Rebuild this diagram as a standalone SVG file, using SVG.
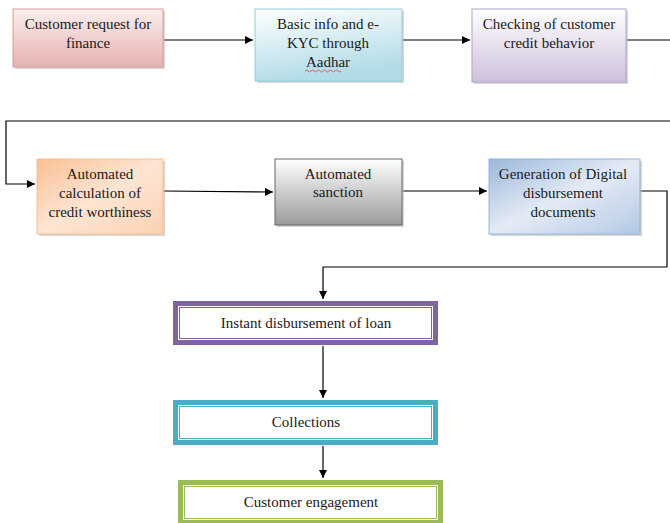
<svg xmlns="http://www.w3.org/2000/svg" width="670" height="523" viewBox="0 0 670 523">
<style>
text{font-family:"Liberation Serif","DejaVu Serif",serif;font-size:15px;fill:#1a1a1a;text-anchor:middle}
.c{fill:none;stroke:#000;stroke-width:1.2}
.sh{fill:#bbb;opacity:.6}
</style>
<defs>
<marker id="ah" viewBox="0 0 10 10" refX="10" refY="5" markerWidth="8" markerHeight="8" markerUnits="userSpaceOnUse" orient="auto"><path d="M0,0L10,5L0,10z" fill="#000"/></marker>
<linearGradient id="gPink" x1="0" y1="0" x2="0" y2="1"><stop offset="0" stop-color="#fbeeee"/><stop offset="1" stop-color="#e5b2b1"/></linearGradient>
<linearGradient id="gCyan" x1="0" y1="0" x2="0.3" y2="1"><stop offset="0" stop-color="#ffffff"/><stop offset="1" stop-color="#b1dbe6"/></linearGradient>
<linearGradient id="gPurp" x1="0" y1="0" x2="0" y2="1"><stop offset="0" stop-color="#ffffff"/><stop offset="1" stop-color="#cdbfdb"/></linearGradient>
<linearGradient id="gOrange" x1="0" y1="0" x2="1" y2="1"><stop offset="0" stop-color="#f9bf94"/><stop offset="0.5" stop-color="#fde5d3"/><stop offset="1" stop-color="#fbd2b3"/></linearGradient>
<linearGradient id="gGray" x1="0" y1="0" x2="0" y2="1"><stop offset="0" stop-color="#ffffff"/><stop offset="1" stop-color="#9a9a9a"/></linearGradient>
<linearGradient id="gBlue" x1="0" y1="0" x2="1" y2="1"><stop offset="0" stop-color="#9bb7da"/><stop offset="0.5" stop-color="#e4ebf5"/><stop offset="1" stop-color="#b3c8e4"/></linearGradient>
</defs>

<g id="connectors">
<path class="c" d="M163,40H253" marker-end="url(#ah)"/>
<path class="c" d="M402,40H470" marker-end="url(#ah)"/>
<path class="c" d="M626,40H670"/>
<path class="c" d="M670,121H6V184H35" marker-end="url(#ah)"/>
<path class="c" d="M163,191L273,192" marker-end="url(#ah)"/>
<path class="c" d="M402,191H487" marker-end="url(#ah)"/>
<path class="c" d="M640,191H667V267H323V299" marker-end="url(#ah)"/>
<path class="c" d="M323,346V398" marker-end="url(#ah)"/>
<path class="c" d="M323,446V478" marker-end="url(#ah)"/>
</g>

<g id="n1">
<rect class="sh" x="15" y="11" width="150" height="58"/>
<rect x="13" y="9" width="150" height="58" fill="url(#gPink)" stroke="#d99a99"/>
<text x="88" y="29">Customer request for</text>
<text x="88" y="48">finance</text>
</g>
<g id="n2">
<rect class="sh" x="257" y="11" width="147" height="72"/>
<rect x="255" y="9" width="147" height="72" fill="url(#gCyan)" stroke="#93cddd"/>
<text x="328" y="29">Basic info and e-</text>
<text x="328" y="48">KYC through</text>
<text x="328" y="67">Aadhar</text>
<path d="M305,71q1.5,-2 3,0t3,0t3,0t3,0t3,0t3,0t3,0t3,0t3,0t3,0t3,0t3,0" fill="none" stroke="#e04040" stroke-width="0.8"/>
</g>
<g id="n3">
<rect class="sh" x="474" y="11" width="154" height="73"/>
<rect x="472" y="9" width="154" height="73" fill="url(#gPurp)" stroke="#b4a3c8"/>
<text x="549" y="29">Checking of customer</text>
<text x="549" y="48">credit behavior</text>
</g>
<g id="n4">
<rect class="sh" x="39" y="161" width="126" height="75"/>
<rect x="37" y="159" width="126" height="75" fill="url(#gOrange)" stroke="#fac090"/>
<text x="100" y="179">Automated</text>
<text x="100" y="198">calculation of</text>
<text x="100" y="217">credit worthiness</text>
</g>
<g id="n5">
<rect class="sh" x="277" y="161" width="127" height="66"/>
<rect x="275" y="159" width="127" height="66" fill="url(#gGray)" stroke="#666"/>
<text x="338" y="179">Automated</text>
<text x="338" y="197">sanction</text>
</g>
<g id="n6">
<rect class="sh" x="491" y="161" width="151" height="75"/>
<rect x="489" y="159" width="151" height="75" fill="url(#gBlue)" stroke="#95b3d7"/>
<text x="563" y="179">Generation of Digital</text>
<text x="563" y="198">disbursement</text>
<text x="563" y="217">documents</text>
</g>
<g id="n7">
<rect x="175.5" y="303.5" width="260" height="39" fill="#fff" stroke="#8064a2" stroke-width="5"/>
<rect x="179.5" y="307.5" width="252" height="31" fill="none" stroke="#8064a2" stroke-width="1"/>
<text x="306" y="328">Instant disbursement of loan</text>
</g>
<g id="n8">
<rect x="175.5" y="402.5" width="260" height="40" fill="#fff" stroke="#4bacc6" stroke-width="5"/>
<rect x="179.5" y="406.5" width="252" height="32" fill="none" stroke="#4bacc6" stroke-width="1"/>
<text x="306" y="427">Collections</text>
</g>
<g id="n9">
<rect x="180.5" y="482.5" width="260" height="40" fill="#fff" stroke="#9bbb59" stroke-width="5"/>
<rect x="184.5" y="486.5" width="252" height="32" fill="none" stroke="#9bbb59" stroke-width="1"/>
<text x="311" y="507">Customer engagement</text>
</g>
</svg>
